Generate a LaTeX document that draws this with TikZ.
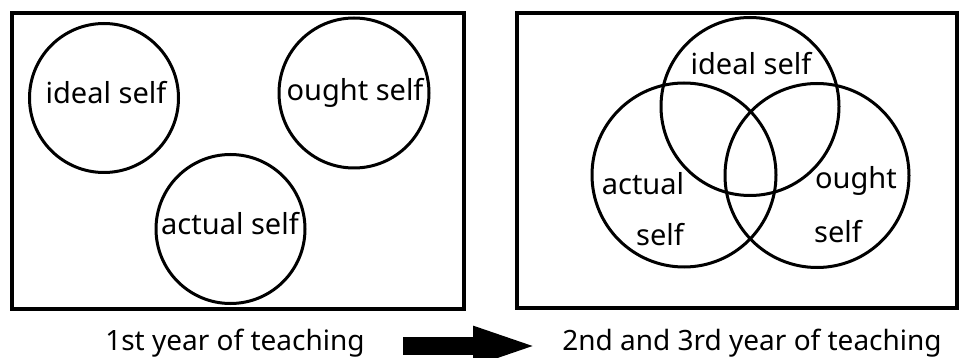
\documentclass[tikz,border=0pt]{standalone}
\usepackage{fontspec}
\setmainfont{Noto Sans}
\usetikzlibrary{arrows.meta}
\begin{document}
\begin{tikzpicture}[x=1pt,y=-1pt,
  frame/.style={draw,line width=3.2pt},
  selfcircle/.style={draw,circle,line width=3pt,inner sep=0pt},
  lbl/.style={font=\fontsize{29}{34}\selectfont,inner sep=0pt},
  captxt/.style={font=\fontsize{28}{33}\selectfont,inner sep=0pt,anchor=base}]
\useasboundingbox (0,0) rectangle (959,358);
\clip (0,0) rectangle (959,358);
% frames
\node[frame,minimum width=452pt,minimum height=296pt,inner sep=0pt] (left) at (238,161) {};
\node[frame,minimum width=440pt,minimum height=295pt,inner sep=0pt] (right) at (737,160.5) {};
% first year
\node[selfcircle,minimum size=149pt] (li) at (104,98) {};
\node[lbl] at (106,93) {ideal self};
\node[selfcircle,minimum size=150pt] (lo) at (354,93) {};
\node[lbl] at (355,93) {ought self};
\node[selfcircle,minimum size=149pt] (la) at (230.5,229) {};
\node[lbl] at (230,224) {actual self};
% second and third year
\node[selfcircle,minimum size=178pt] (ri) at (750,106.5) {};
\node[selfcircle,minimum size=184pt] (ra) at (684,175) {};
\node[selfcircle,minimum size=184pt] (ro) at (817,175.5) {};
\node[lbl] (tri) at (751,64) {ideal self};
\node[lbl] (tra1) at (643,184) {actual};
\node[lbl] (tra2) at (660,235) {self};
\node[lbl] (tro1) at (856,181) {ought};
\node[lbl] (tro2) at (838,232) {self};
% captions
\node[captxt] (c1) at (235,350) {1st year of teaching};
\node[captxt] (c2) at (752,350) {2nd and 3rd year of teaching};
% arrow
\coordinate (as) at (403,346);
\coordinate (ae) at (542,346);
\draw[line width=18pt,-{Triangle[length=69pt,width=34pt]}] (as) -- (ae);
\end{tikzpicture}
\end{document}
